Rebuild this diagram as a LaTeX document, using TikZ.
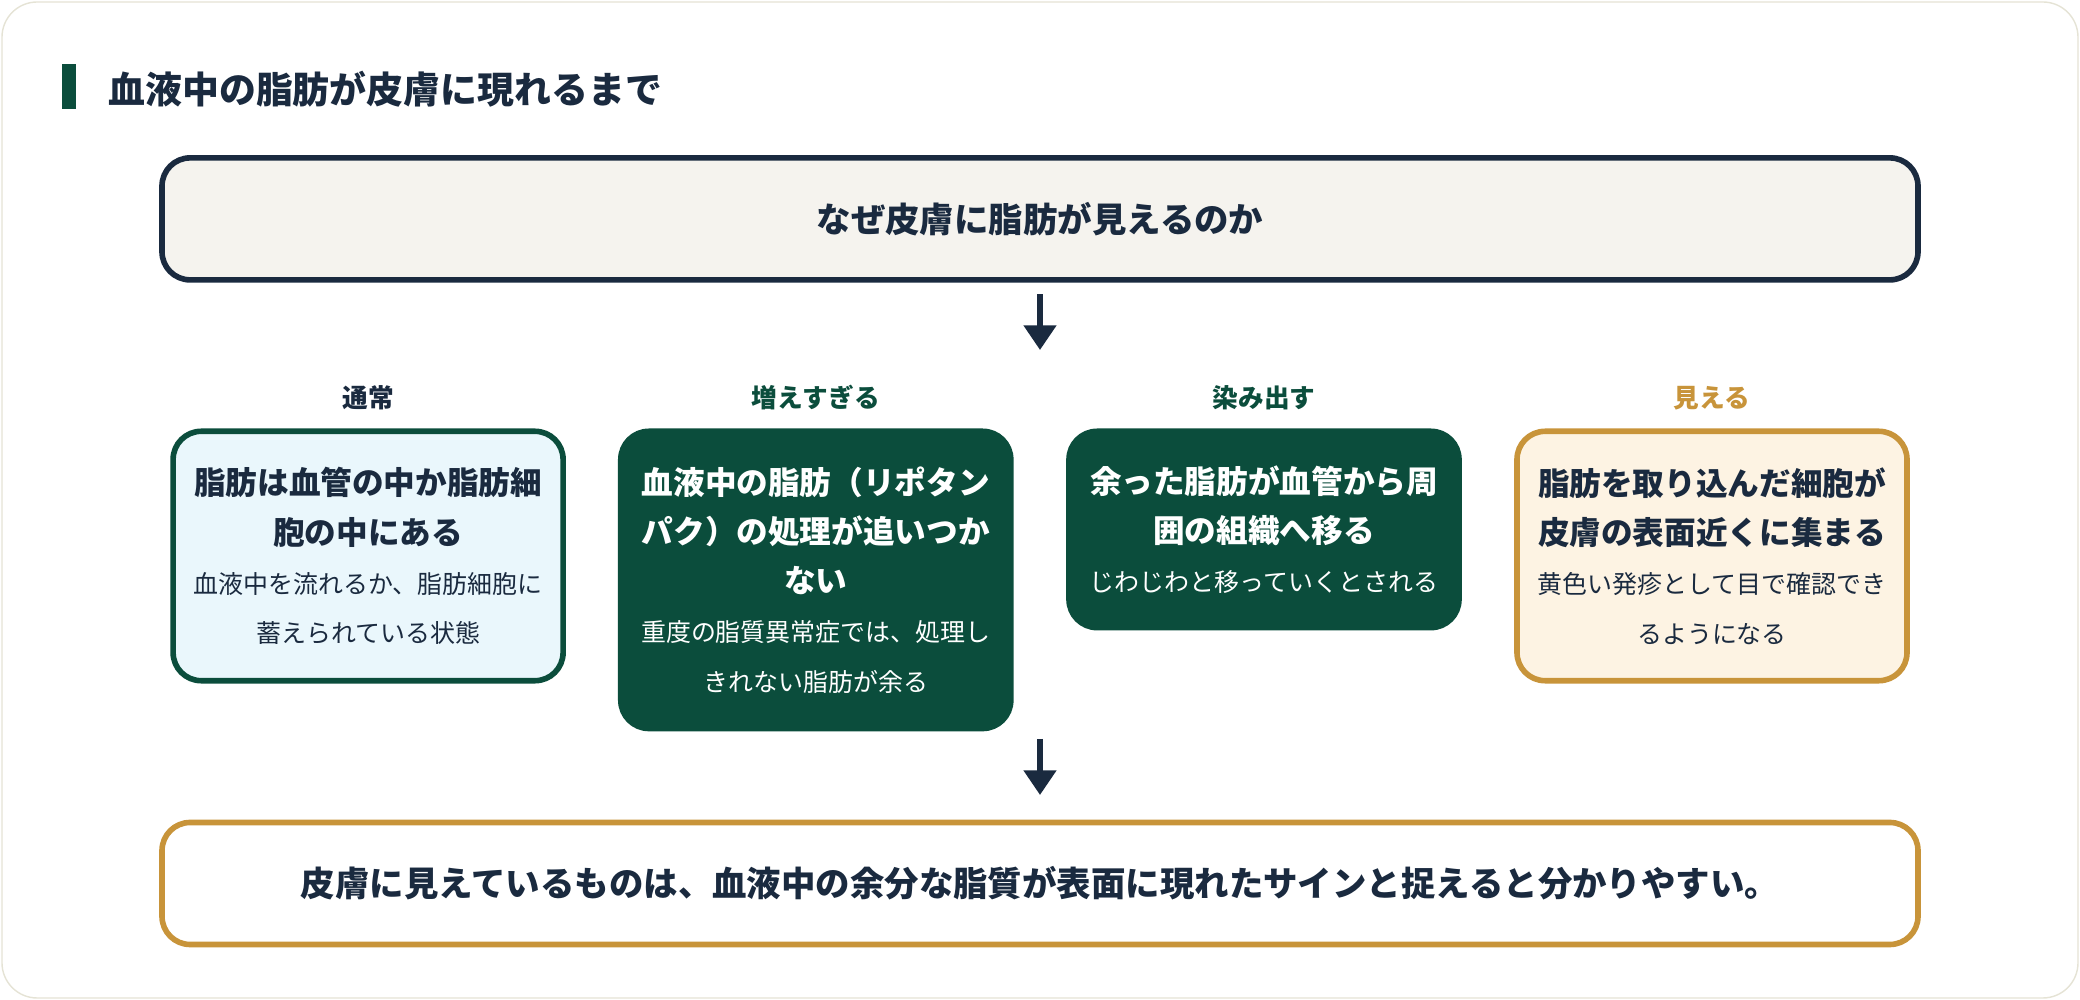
\documentclass[tikz,border=0pt]{standalone}
\usepackage{fontspec}
\setmainfont{Noto Sans CJK JP}
\usetikzlibrary{arrows.meta}
\definecolor{navy}{HTML}{1A2A3F}
\definecolor{leaf}{HTML}{0B4D3C}
\definecolor{gold}{HTML}{C8943A}
\definecolor{skyfill}{HTML}{EAF7FC}
\definecolor{creamfill}{HTML}{FDF3E3}
\definecolor{paper}{HTML}{F5F3EE}
\definecolor{frame}{HTML}{E5E3D5}
\begin{document}
\begin{tikzpicture}[
    phase/.style ={rounded corners=8pt, line width=1.6pt, anchor=north,
      text width=3.9cm, align=center, inner sep=0pt},
    banner/.style ={rounded corners=8pt, line width=1.6pt, draw=navy,
      minimum width=17.56cm, minimum height=1.22cm, text=navy,
      font=\fontsize{9.8pt}{12pt}\bfseries},
    stage/.style ={font=\fontsize{7.3pt}{9pt}\bfseries},
    arr/.style ={line width=1.6pt, draw=navy, -{Triangle[length=7pt,width=9pt]}}]
   \fill[white, draw=frame, rounded corners=10pt] (0.02,-0.02) rectangle (20.78,-9.98);
   \useasboundingbox (0,0) rectangle (20.8,-10);
   \fill[leaf] (0.623,-0.637) rectangle (0.756,-1.088);
   \node[anchor=west, text=navy, font=\fontsize{10.5pt}{12pt}\bfseries] (title) at (0.96,-0.889) {血液中の脂肪が皮膚に現れるまで};

   \node[banner, fill=paper] (why) at (10.4,-2.189) {なぜ皮膚に脂肪が見えるのか};

   \node[stage, text=navy] (l1) at (3.681,-3.98) {通常};
   \node[stage, text=leaf] (l2) at (8.158,-3.98) {増えすぎる};
   \node[stage, text=leaf] (l3) at (12.64,-3.98) {染み出す};
   \node[stage, text=gold] (l4) at (17.12,-3.98) {見える};

   \node[phase, draw=leaf, fill=skyfill, text=navy, minimum height=2.494cm] (normal) at (3.681,-4.285)
     {{\fontsize{9pt}{14pt}\bfseries 脂肪は血管の中か脂肪細\\胞の中にある\par}
      {\fontsize{7.1pt}{14pt}\selectfont 血液中を流れるか、脂肪細胞に\\蓄えられている状態\par}};
   \node[phase, draw=leaf, fill=leaf, text=white, minimum height=2.972cm] (excess) at (8.158,-4.285)
     {{\fontsize{9pt}{14pt}\bfseries 血液中の脂肪（リポタン\\パク）の処理が追いつか\\ない\par}
      {\fontsize{7.1pt}{14pt}\selectfont 重度の脂質異常症では、処理し\\きれない脂肪が余る\par}};
   \node[phase, draw=leaf, fill=leaf, text=white, minimum height=1.963cm] (leak) at (12.64,-4.285)
     {{\fontsize{9pt}{14pt}\bfseries 余った脂肪が血管から周\\囲の組織へ移る\par}
      {\fontsize{7.1pt}{14pt}\selectfont じわじわと移っていくとされる\par}};
   \node[phase, draw=gold, fill=creamfill, text=navy, minimum height=2.494cm] (seen) at (17.12,-4.285)
     {{\fontsize{9pt}{14pt}\bfseries 脂肪を取り込んだ細胞が\\皮膚の表面近くに集まる\par}
      {\fontsize{7.1pt}{14pt}\selectfont 黄色い発疹として目で確認でき\\るようになる\par}};

   \node[banner, draw=gold, fill=white] (sign) at (10.4,-8.835) {皮膚に見えているものは、血液中の余分な脂質が表面に現れたサインと捉えると分かりやすい。};

   \coordinate (a1s) at (10.4,-2.945);
   \coordinate (a1e) at (10.4,-3.5);
   \coordinate (a2s) at (10.4,-7.39);
   \coordinate (a2e) at (10.4,-7.95);
   \draw[arr] (a1s) -- (a1e);
   \draw[arr] (a2s) -- (a2e);
 \end{tikzpicture}
\end{document}
